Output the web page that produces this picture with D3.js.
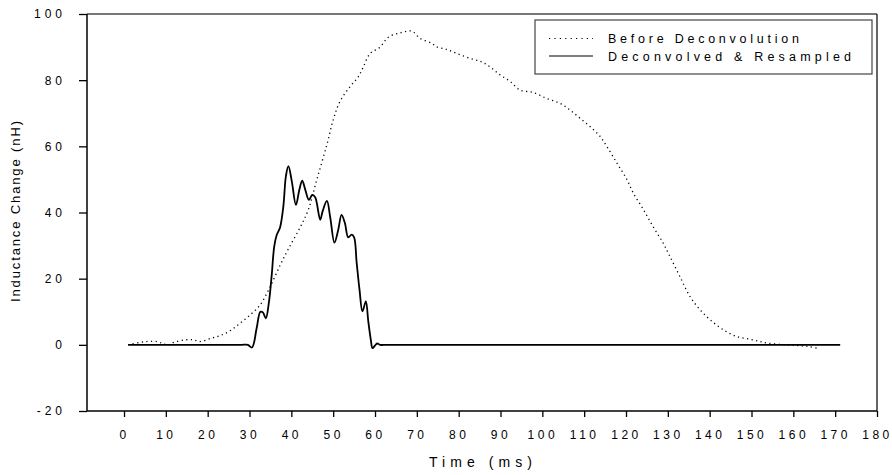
<!DOCTYPE html>
<html>
<head>
<meta charset="utf-8">
<script src="https://cdn.jsdelivr.net/npm/d3@7"></script>
<style>
  body { margin: 0; background: #fff; }
  svg { display: block; font-family: "Liberation Sans", Arial, sans-serif; }
</style>
</head>
<body>
<div id="chart"></div>
<script>
// data
const xTicks = [0, 10, 20, 30, 40, 50, 60, 70, 80, 90, 100, 110, 120, 130, 140, 150, 160, 170, 180]
const yTicks = [-20, 0, 20, 40, 60, 80, 100]

const beforeX = [1, 5.4, 8.2, 9.5, 11.2, 11.8, 14.6, 16.6, 18.2, 20.6, 23, 25.3, 27.7, 30.1, 32.5, 34.9, 37.3, 39.3, 42.1, 44.1, 46.1,
  48.5, 50, 51.6, 54, 56, 57.2, 58.8, 61.2, 63.2, 66, 68.8, 70.8, 73.6, 74.7, 77.1, 79.5, 82.7, 85.5, 87.5, 89.9,
  92.3, 94.7, 97.8, 101, 104.2, 106.6, 109, 111.4, 113.8, 115.4, 117.8, 120.2, 121.7, 124.1, 126.5, 128.9, 130.5, 132.9, 135.3, 137.7,
  140.1, 143.3, 146.5, 149.7, 152, 154, 158, 161, 163.6, 165.6]
const beforeY = [0, 1.0, 0.9, 0.2, 0.1, 0.7, 1.5, 1.5, 1.0, 1.9, 2.8, 4.2, 6.5, 9.0, 12.0, 17.5, 24.0, 29.0, 35.5, 41.0, 50.0,
  60.5, 68.0, 73.5, 78.0, 81.0, 84.0, 88.0, 90.0, 93.0, 94.3, 94.8, 92.6, 91.1, 90.1, 89.3, 88.1, 86.6, 85.5, 84.0, 81.6,
  79.6, 77.0, 76.3, 74.5, 73.0, 71.0, 68.5, 66.0, 63.0, 60.0, 55.0, 50.0, 46.0, 41.0, 35.7, 30.7, 26.7, 20.6, 14.6, 10.6,
  7.6, 4.5, 2.5, 1.7, 1.0, 0.5, 0, -0.2, -0.5, -1.0]

const deconvX = [1, 28, 29.6, 30.6, 31.7, 32.6, 33.2, 33.9, 34.6, 35.3, 35.9, 36.5, 37.3, 38.1, 38.7, 39.3, 40.1, 41.1, 41.9, 42.6,
  43.3, 44.2, 45.0, 45.7, 46.9, 47.5, 48.5, 49.3, 50.3, 51.2, 52.0, 52.8, 53.6, 54.4, 55.0, 55.6, 56.3, 57.0, 57.8, 58.4,
  59.0, 59.4, 60.0, 60.5, 61.2, 63, 171.2]
const deconvY = [0, 0, 0, -0.8, 5, 10, 9.8, 8.0, 12.5, 21, 29.7, 33.2, 35.5, 42, 51, 54, 49.5, 42.3, 46.8, 49.6,
  47, 43.8, 45.3, 44.6, 37.8, 40.5, 43.5, 38.5, 30.9, 34.7, 39.3, 36.8, 32.5, 33.3, 32.5, 25, 16.6, 10.1, 13.1, 7,
  1.5, -1.0, -0.2, 0.4, 0, 0, 0]

const seriesNames = ["Before Deconvolution", "Deconvolved & Resampled"]

drawChart()

function drawChart() {
    const width = 892, height = 475
    const left = 87, right = 877, top = 14, bottom = 411

    const svg = d3.select("#chart").append("svg")
        .attr("width", width)
        .attr("height", height)

    const x = d3.scaleLinear().domain([-8.85, 180]).range([left, right])
    const y = d3.scaleLinear().domain([-20, 100]).range([bottom, top])

    // frame: top grey, right dark
    svg.append("line")
        .attr("x1", left).attr("x2", right).attr("y1", top).attr("y2", top)
        .attr("stroke", "#777").attr("stroke-width", 2)
    svg.append("line")
        .attr("x1", right).attr("x2", right).attr("y1", top).attr("y2", bottom)
        .attr("stroke", "#333").attr("stroke-width", 1.5)

    const plainFormat = function(d) { return String(d) }

    // x axis
    const xAxis = svg.append("g")
        .attr("transform", "translate(0," + bottom + ")")
        .call(d3.axisBottom(x).tickValues(xTicks).tickFormat(plainFormat).tickSize(6).tickSizeOuter(0).tickPadding(13))
    xAxis.select(".domain").remove()
    xAxis.append("line").attr("x1", left).attr("x2", right).attr("stroke", "#000").attr("stroke-width", 1.5)
    xAxis.selectAll(".tick line").attr("stroke", "#000").attr("stroke-width", 1.3)
    xAxis.selectAll(".tick text")
        .attr("fill", "#000")
        .style("font-size", "12px")
        .style("letter-spacing", "3.5px")
        .style("font-family", "'Liberation Sans', Arial, sans-serif")

    // y axis
    const yAxis = svg.append("g")
        .attr("transform", "translate(" + left + ",0)")
        .call(d3.axisLeft(y).tickValues(yTicks).tickFormat(plainFormat).tickSize(8).tickSizeOuter(0).tickPadding(13))
    yAxis.select(".domain").remove()
    yAxis.append("line").attr("y1", top).attr("y2", bottom).attr("stroke", "#000").attr("stroke-width", 1.5)
    yAxis.selectAll(".tick line").attr("stroke", "#000").attr("stroke-width", 1.3)
    yAxis.selectAll(".tick text")
        .attr("fill", "#000")
        .style("font-size", "12px")
        .style("letter-spacing", "4px")
        .style("font-family", "'Liberation Sans', Arial, sans-serif")

    // axis titles
    svg.append("text")
        .attr("x", 429).attr("y", 467)
        .attr("textLength", 103).attr("lengthAdjust", "spacing")
        .style("font-size", "14px")
        .text("Time (ms)")
    svg.append("text")
        .attr("transform", "translate(20,302) rotate(-90)")
        .attr("textLength", 181).attr("lengthAdjust", "spacing")
        .style("font-size", "13px")
        .text("Inductance Change (nH)")

    const line = d3.line()
        .x(function(d) { return x(d[0]) })
        .y(function(d) { return y(d[1]) })
        .curve(d3.curveCatmullRom.alpha(0.5))

    const before = beforeX.map(function(v, i) { return [v, beforeY[i]] })
    const deconv = deconvX.map(function(v, i) { return [v, deconvY[i]] })

    svg.append("path")
        .attr("d", line(before))
        .attr("fill", "none")
        .attr("stroke", "#000")
        .attr("stroke-width", 1.3)
        .attr("stroke-dasharray", "1.2,3.4")

    svg.append("path")
        .attr("d", line(deconv))
        .attr("fill", "none")
        .attr("stroke", "#000")
        .attr("stroke-width", 1.8)
        .attr("stroke-linejoin", "round")

    // legend
    const legend = svg.append("g")
    legend.append("rect")
        .attr("x", 535).attr("y", 20).attr("width", 337).attr("height", 54)
        .attr("fill", "#fff").attr("stroke", "#444").attr("stroke-width", 1.2)
    legend.append("line")
        .attr("x1", 549).attr("x2", 593).attr("y1", 38.5).attr("y2", 38.5)
        .attr("stroke", "#000").attr("stroke-width", 1.2).attr("stroke-dasharray", "1.2,4.2")
    legend.append("line")
        .attr("x1", 549).attr("x2", 593).attr("y1", 56).attr("y2", 56)
        .attr("stroke", "#000").attr("stroke-width", 1.2)
    legend.append("text")
        .attr("x", 608).attr("y", 43)
        .attr("textLength", 191).attr("lengthAdjust", "spacing")
        .style("font-size", "12.5px")
        .text(seriesNames[0])
    legend.append("text")
        .attr("x", 608).attr("y", 60.5)
        .attr("textLength", 243).attr("lengthAdjust", "spacing")
        .style("font-size", "12.5px")
        .text(seriesNames[1])
}
</script>
</body>
</html>
